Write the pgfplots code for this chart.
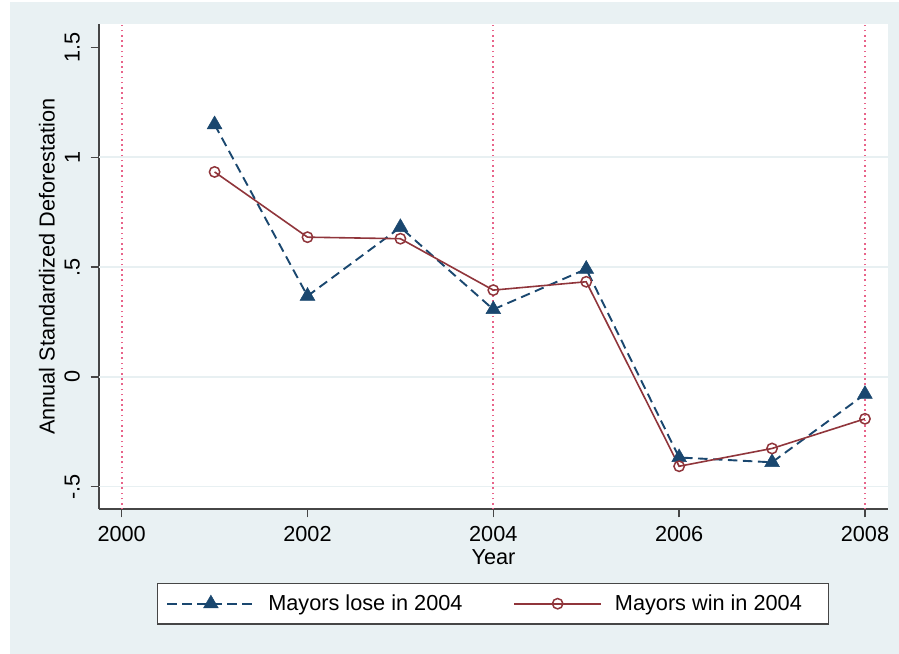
\documentclass[border=0pt]{standalone}
\usepackage{fontspec}
\setmainfont{Liberation Sans}
\usepackage{pgfplots}
\pgfplotsset{compat=1.18}

\definecolor{bgpanel}{RGB}{233,241,243}
\definecolor{gridc}{RGB}{232,240,242}
\definecolor{axisc}{RGB}{70,70,70}
\definecolor{snavy}{RGB}{26,71,111}
\definecolor{smaroon}{RGB}{144,53,59}
\definecolor{refpink}{RGB}{232,100,138}

\pgfplotsset{
  refline/.style={color=refpink, line width=1.7bp, dash pattern=on 1.6bp off 3.6bp, forget plot},
}

\begin{document}
\begin{tikzpicture}[font=\fontsize{21.7bp}{26bp}\selectfont]
\useasboundingbox (0,0) rectangle (899bp,654bp);
\fill[white] (0,0) rectangle (899bp,654bp);
\fill[bgpanel] (10bp,0) rectangle (899bp,651.7bp);
\begin{axis}[
  at={(99bp,145bp)}, anchor=south west,
  scale only axis, width=789bp, height=485bp,
  xmin=1999.756, xmax=2008.248,
  ymin=-0.6016, ymax=1.6066,
  axis background/.style={fill=white},
  axis x line*=bottom, axis y line*=left,
  axis line style={axisc, line width=1.3bp, -},
  xtick={2000,2002,2004,2006,2008},
  xticklabels={2000,2002,2004,2006,2008},
  ytick={-0.5,0,0.5,1,1.5},
  yticklabels={-.5,0,.5,1,1.5},
  tick align=outside,
  major tick length=8.5bp,
  tick style={axisc, line width=1.3bp},
  xticklabel style={anchor=north, inner sep=0pt, yshift=-8.7bp},
  yticklabel style={rotate=90, anchor=south, inner sep=0pt, yshift=10.5bp},
  extra y ticks={-0.5,0,0.5,1},
  extra y tick labels={},
  extra y tick style={ymajorgrids=true, major tick length=0pt, major grid style={gridc, line width=1.6bp}},
  xlabel={Year},
  xlabel style={at={(axis description cs:0.5,0)}, anchor=north, inner sep=0pt, yshift=-40.5bp},
  ylabel={Annual Standardized Deforestation},
  ylabel style={at={(axis description cs:0,0.5)}, anchor=south, inner sep=0pt, yshift=44bp},
  legend columns=2,
  legend style={
    at={(axis description cs:0.499,0)}, anchor=north, yshift=-73.7bp,
    draw=axisc, line width=1.3bp, fill=white,
    inner xsep=9.3bp, inner ysep=11.5bp,
    nodes={inner sep=0pt, text depth=0.2em},
    cells={anchor=west},
    /tikz/every odd column/.append style={column sep=13bp},
    /tikz/every even column/.append style={column sep=13bp},
  },
  legend image code/.code={\draw[mark repeat=2,mark phase=2,#1] plot coordinates {(0bp,0bp) (43.5bp,0bp) (87bp,0bp)};},
]
% dotted reference years
\addplot[refline] coordinates {(2000,-0.7) (2000,1.7)};
\addplot[refline] coordinates {(2004,-0.7) (2004,1.7)};
\addplot[refline] coordinates {(2008,-0.7) (2008,1.7)};

\addplot[snavy, line width=1.9bp, dash pattern=on 9.5bp off 5.5bp,
  mark=triangle*, mark size=8.5bp, mark options={solid, fill=snavy, line width=0.5bp}]
  coordinates {(2001,1.149) (2002,0.368) (2003,0.681) (2004,0.307) (2005,0.491) (2006,-0.367) (2007,-0.389) (2008,-0.079)};
\addlegendentry{\makebox[232bp][l]{Mayors lose in 2004}}

\addplot[smaroon, line width=1.6bp,
  mark=o, mark size=5.2bp, mark options={solid, line width=1.5bp}]
  coordinates {(2001,0.933) (2002,0.636) (2003,0.629) (2004,0.395) (2005,0.433) (2006,-0.407) (2007,-0.326) (2008,-0.191)};
\addlegendentry{\makebox[204bp][l]{Mayors win in 2004}}
\end{axis}
\end{tikzpicture}
\end{document}
